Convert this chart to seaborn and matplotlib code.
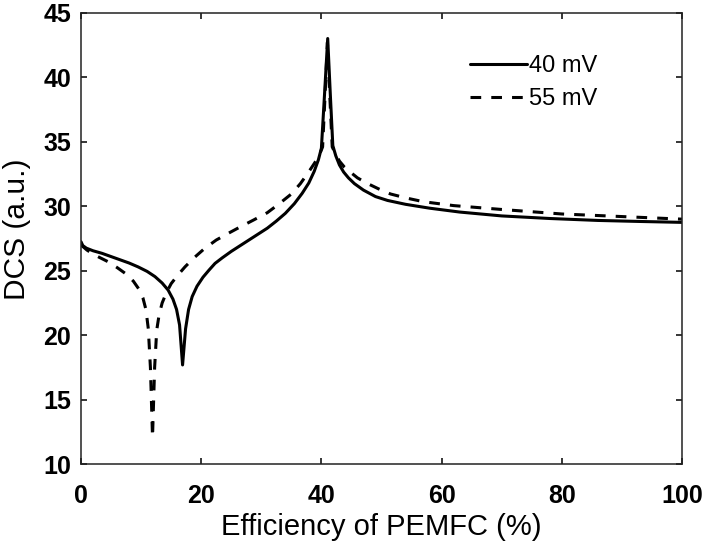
import matplotlib
matplotlib.use("Agg")
import matplotlib.pyplot as plt
import seaborn as sns
import pandas as pd

x40 = [0, 0.3, 0.9, 2, 3.5, 5, 6.5, 8, 9.5, 11, 12.3, 13.5, 14.5, 15.3, 15.9, 16.4, 16.9, 17.4, 17.9, 18.5,
       19.3, 20.3, 21.3, 22.3, 23.5, 25, 26.5, 28, 29.5, 31, 32.5, 34, 35.5, 36.8, 37.9, 38.8, 39.5, 40.0,
       40.5, 41.05, 41.5, 41.9, 42.4, 43.0, 43.7, 44.5, 45.5, 47, 49, 51, 54, 58, 63, 70, 78, 86, 93, 100]
y40 = [27.25, 26.95, 26.75, 26.55, 26.35, 26.1, 25.85, 25.6, 25.3, 24.95, 24.55, 24.05, 23.5, 22.8, 22.0,
       20.8, 17.7, 20.5, 22.0, 23.0, 23.8, 24.5, 25.05, 25.57, 26.0, 26.5, 26.95, 27.4, 27.85, 28.3, 28.85,
       29.45, 30.2, 31.0, 31.8, 32.7, 33.6, 34.5, 38.5, 43.0, 38.5, 34.7, 33.9, 33.2, 32.65, 32.2, 31.75,
       31.25, 30.75, 30.45, 30.15, 29.85, 29.55, 29.25, 29.05, 28.9, 28.82, 28.75]
x55 = [0, 1, 2, 3, 4.5, 6, 7.5, 8.7, 9.6, 10.3, 10.8, 11.2, 11.55, 11.9, 12.25, 12.6, 13.0, 13.5, 14.2,
       15.0, 16.0, 17.3, 18.8, 20.5, 22.5, 24.5, 26.5, 28.7, 31, 33, 35, 36.5, 37.8, 38.8, 39.6, 40.2, 40.6,
       41.0, 41.4, 41.8, 42.3, 43, 43.8, 44.8, 46, 47.5, 49.5, 51.5, 54, 57, 62, 70, 80, 90, 100]
y55 = [27.0, 26.6, 26.3, 26.05, 25.7, 25.25, 24.75, 24.2, 23.6, 22.9, 22.0, 20.5, 17.5, 12.1, 17.5, 20.4,
       21.6, 22.5, 23.3, 24.0, 24.6, 25.3, 26.0, 26.7, 27.38, 27.9, 28.4, 28.93, 29.5, 30.2, 30.95, 31.75,
       32.6, 33.3, 33.9, 34.6, 38.5, 42.7, 38.5, 34.6, 34.1, 33.5, 33.05, 32.65, 32.2, 31.8, 31.35, 30.95,
       30.65, 30.35, 30.05, 29.75, 29.4, 29.2, 29.0]
labels = ["40 mV", "55 mV"]
xticks = [0, 20, 40, 60, 80, 100]
yticks = [10, 15, 20, 25, 30, 35, 40, 45]

sns.set_style("ticks")
plt.rcParams['font.family'] = ['Liberation Sans', 'DejaVu Sans']
plt.rcParams['text.color'] = 'black'

fig = plt.figure(figsize=(7.08, 5.54), dpi=100)
ax = fig.add_axes([81/708, 1 - 464.3/554, 601/708, 451.6/554])

df40 = pd.DataFrame({"x": x40, "y": y40})
df55 = pd.DataFrame({"x": x55, "y": y55})
sns.lineplot(data=df40, x="x", y="y", ax=ax, color="black", lw=2.2, sort=False, label=labels[0])
sns.lineplot(data=df55, x="x", y="y", ax=ax, color="black", lw=2.2, sort=False, label=labels[1],
             linestyle=(0, (3.5, 3.3)))

ax.set_xlim(0, 100)
ax.set_ylim(10, 45)
ax.set_xticks(xticks)
ax.set_yticks(yticks)
ax.tick_params(direction="in", length=4.5, width=1.1, top=True, right=True, labelsize=18,
               colors="black", labelcolor="black")
ax.tick_params(axis="x", pad=14)
ax.tick_params(axis="y", pad=7)
for lab in ax.get_xticklabels() + ax.get_yticklabels():
    lab.set_fontweight("bold")
for s in ax.spines.values():
    s.set_visible(True)
    s.set_linewidth(1.1)
    s.set_color("#222222")
ax.set_xlabel("Efficiency of PEMFC (%)", fontsize=21, labelpad=4, color="black")
ax.set_ylabel("DCS (a.u.)", fontsize=21.5, labelpad=9, color="black", y=0.52)
leg = ax.legend(loc="upper left", bbox_to_anchor=(0.647, 0.906), frameon=False, fontsize=17,
                handlelength=2.4, handletextpad=0.1, labelspacing=0.45, borderpad=0, borderaxespad=0)
fig.savefig("out.png", dpi=100)
